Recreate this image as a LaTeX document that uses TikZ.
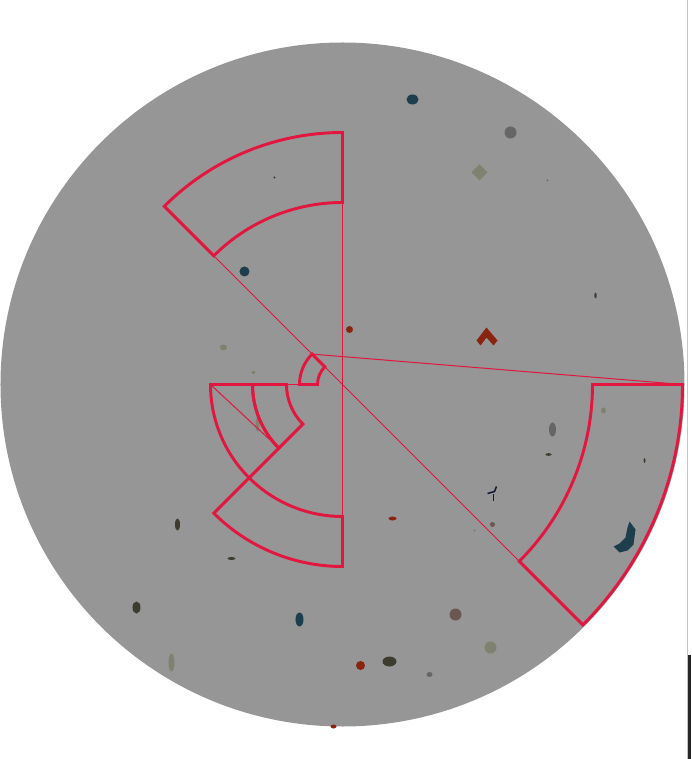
\documentclass[tikz,border=0pt]{standalone}
\usepackage{tikz}
\usepackage{xcolor}
\definecolor{fieldgray}{RGB}{150,150,150}
\definecolor{markred}{RGB}{226,22,62}
\definecolor{specteal}{RGB}{30,62,78}
\definecolor{specgray}{RGB}{102,102,102}
\definecolor{specolive}{RGB}{128,130,112}
\definecolor{specdark}{RGB}{62,60,46}
\definecolor{specred}{RGB}{138,36,16}
\definecolor{specbrown}{RGB}{108,86,82}
\definecolor{specnavy}{RGB}{22,26,46}
\definecolor{edgeline}{RGB}{200,196,208}

% annular sector: start angle, end angle, inner radius, outer radius
\newcommand{\annsector}[4]{%
  \draw[sectorline] (#1:#3) -- (#1:#4) arc[start angle=#1, end angle=#2, radius=#4]
    -- (#2:#3) arc[start angle=#2, end angle=#1, radius=#3] -- cycle;
}

\begin{document}
\begin{tikzpicture}[x=0.03cm, y=0.03cm,
    sectorline/.style={draw=markred, line width=2.5pt, line join=miter},
    guideline/.style={draw=markred, line width=0.85pt}]
    \useasboundingbox (-342.5,-374.5) rectangle (348.5,384.5);

    % Field of view
    \fill[fieldgray] (0,0) circle[radius=342];

    % Debris (pixel coordinates)
    \begin{scope}[shift={(-343,385)}, yscale=-1]
        \foreach \px/\py/\rx/\ry/\col in {
            413/100/6/5/specteal, 511/133/6/6/specgray, 548/181/1/1/specgray,
            275/178/1.2/1.2/specdark, 245/272/5/5/specteal, 350/330/3.5/3.5/specred,
            224/348/3.5/3/specolive, 254/373/2/1.5/specolive, 596/296/1.2/3/specdark,
            604/411/2.5/3/specolive, 553/430/3.5/7/specgray, 549/455/3/1.3/specdark,
            645/461/1/2.5/specdark, 493/525/2.5/2.5/specbrown, 475/531/1.5/1/specolive,
            393/519/4/2/specred, 258/425/2/7/specolive, 178/525/2.5/6/specdark,
            232/559/4/1.5/specdark, 137/608/4/6/specdark, 300/620/4/7/specteal,
            456/615/6/6/specbrown, 491/648/6/6/specolive, 172/663/3/9/specolive,
            361/666/4.5/4.5/specred, 390/662/7/5/specdark, 430/675/3/2.5/specgray,
            334/727/3/2/specred} {
            \fill[\col] (\px,\py) ellipse[x radius=\rx, y radius=\ry];
        }
        % larger specks
        \fill[specred] (477,341) -- (487,328) -- (498,341) -- (494,346) -- (487,338) -- (481,346) -- cycle;
        \fill[specolive] (480,165) -- (488,173) -- (480,181) -- (472,173) -- cycle;
        \fill[specteal] (630,522) -- (636,530) -- (634,545) -- (628,551) -- (620,553)
            -- (614,547) -- (620,544) -- (626,538) -- (628,528) -- cycle;
        \draw[specnavy, line width=1.3pt] (488,494) -- (495,492) -- (497,487);
        \draw[specnavy, line width=1.3pt] (494,494) -- (494,501);

        % edge of the window
        \draw[edgeline, line width=0.8pt] (688,0) -- (688,759);
        \fill[black!85] (688,655) rectangle (691,759);
    \end{scope}

    % Reference points
    \coordinate (topin) at (90:182);
    \coordinate (botin) at (270:132);
    \coordinate (nwin) at (135:182);
    \coordinate (sein) at (-45:250);
    \coordinate (eout) at (0:340);
    \coordinate (smallnw) at (135:43);
    \coordinate (smallw) at (180:43);
    \coordinate (midw) at (180:56);
    \coordinate (leftw) at (180:132);
    \coordinate (leftsw) at (225:90);

    % Guide lines
    \draw[guideline] (nwin) -- (sein);
    \draw[guideline] (topin) -- (botin);
    \draw[guideline] (smallnw) -- (eout);
    \draw[guideline] (midw) -- (smallw);
    \draw[guideline] (leftw) -- (leftsw);

    % Sectors
    \annsector{90}{135}{182}{252}
    \annsector{225}{270}{132}{182}
    \annsector{180}{225}{90}{132}
    \annsector{180}{225}{56}{90}
    \annsector{135}{180}{25}{43}
    \annsector{-45}{0}{250}{340}

\end{tikzpicture}
\end{document}
